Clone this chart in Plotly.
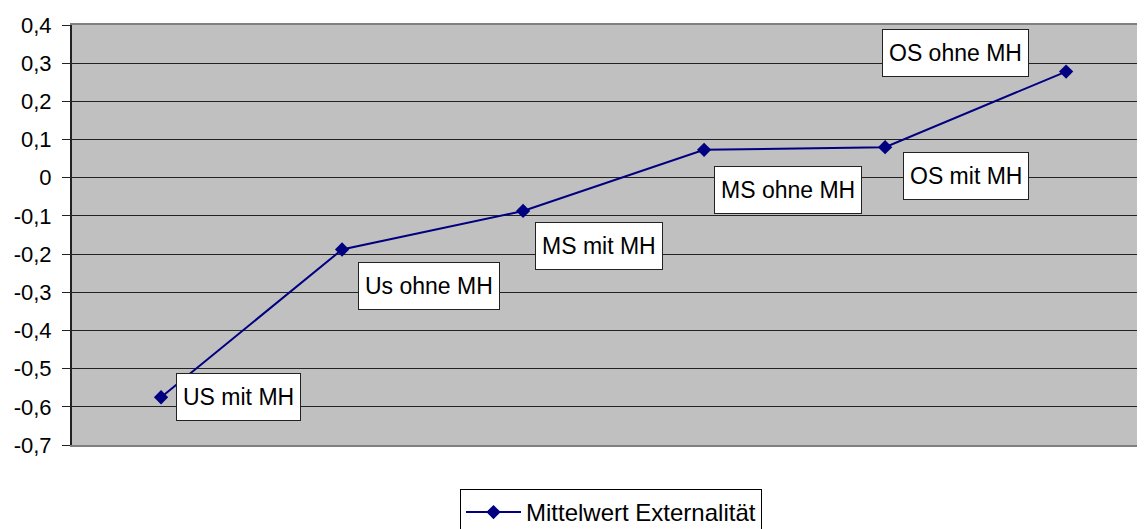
import plotly.graph_objects as go

categories = ["US mit MH", "Us ohne MH", "MS mit MH", "MS ohne MH", "OS mit MH", "OS ohne MH"]
values = [-0.575, -0.188, -0.087, 0.073, 0.080, 0.278]
series_name = "Mittelwert Externalität"

tick_vals = [0.4, 0.3, 0.2, 0.1, 0.0, -0.1, -0.2, -0.3, -0.4, -0.5, -0.6, -0.7]
tick_text = ["0,4", "0,3", "0,2", "0,1", "0", "-0,1", "-0,2", "-0,3", "-0,4", "-0,5", "-0,6", "-0,7"]

# label box offsets from each point (pixels)
label_shift = [(77, 0), (87, -36), (76, -35), (84, -40), (81, -29), (-111, 19)]

FONT = "Liberation Sans, Arial, sans-serif"
W, H = 1145, 529
BODY = 8  # default page margin of the html body
xs = list(range(len(categories)))

fig = go.Figure(
    go.Scatter(
        x=xs,
        y=values,
        mode="lines+markers",
        name=series_name,
        line=dict(color="#000080", width=2),
        marker=dict(symbol="diamond", size=11, color="#000080"),
    )
)

for i, (cat, val) in enumerate(zip(categories, values)):
    dx, dy = label_shift[i]
    fig.add_annotation(
        x=i, y=val, text=cat, showarrow=False,
        xshift=dx, yshift=dy, height=34,
        font=dict(family=FONT, size=23, color="black"),
        bgcolor="white", bordercolor="#222", borderwidth=1, borderpad=6,
    )

fig.update_layout(
    width=W,
    height=H,
    margin=dict(l=72 - BODY, r=0, t=25 - BODY, b=H - (445 - BODY)),
    paper_bgcolor="white",
    plot_bgcolor="#C0C0C0",
    font=dict(family=FONT, size=22, color="black"),
    showlegend=True,
    legend=dict(
        orientation="h",
        xref="container", yref="container",
        x=(611 - BODY) / W, xanchor="center",
        y=1 - (489 - BODY) / H, yanchor="top",
        bordercolor="black", borderwidth=1,
        font=dict(size=24),
        itemwidth=55,
    ),
    xaxis=dict(
        range=[-0.492, 5.48],
        showticklabels=False, showgrid=False, zeroline=False,
        showline=True, linecolor="#808080", linewidth=2, mirror=True,
        ticks="",
    ),
    yaxis=dict(
        range=[-0.7, 0.4],
        tickvals=tick_vals, ticktext=tick_text,
        showgrid=True, gridcolor="#222", gridwidth=1,
        zeroline=False,
        showline=True, linecolor="#222", linewidth=2,
        ticks="outside", ticklen=8, tickcolor="#222",
        ticklabelstandoff=6,
    ),
)

fig.write_html("out.html")
